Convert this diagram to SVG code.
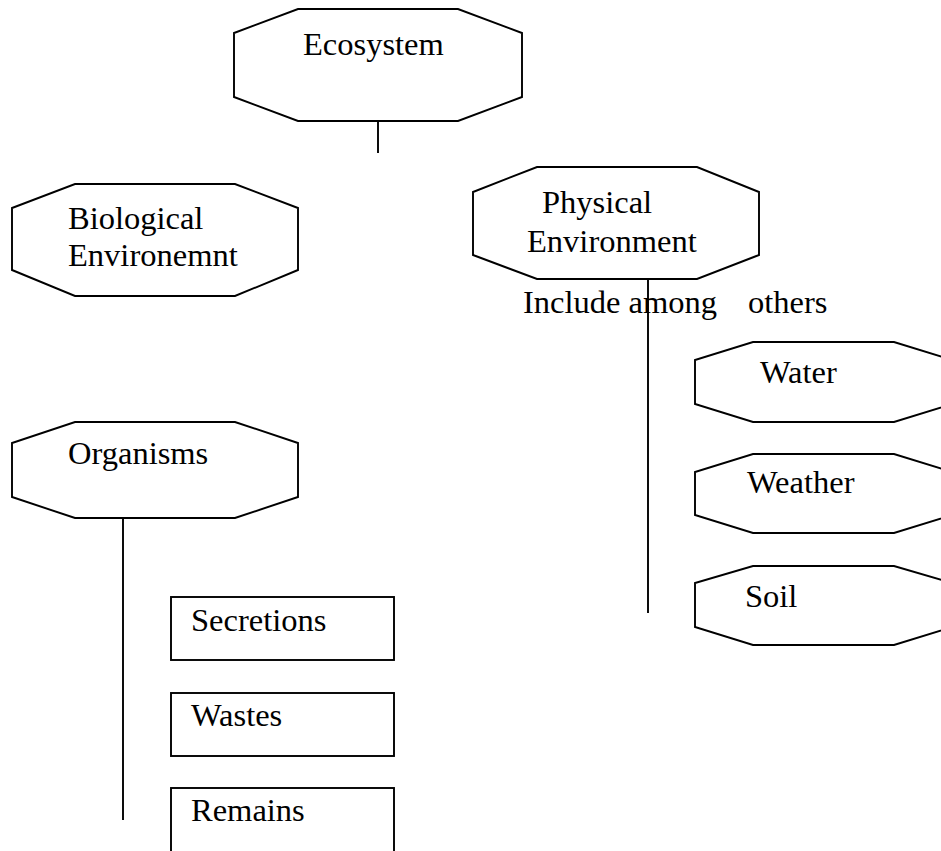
<svg xmlns="http://www.w3.org/2000/svg" width="941" height="851" viewBox="0 0 941 851">
<style>
.shape{fill:#fff;stroke:#000;stroke-width:1.9;stroke-linejoin:miter}
.lbl{font-family:"Liberation Serif","Times New Roman",serif;font-size:32.5px;fill:#000}
.conn{stroke:#000;stroke-width:1.9;fill:none}
</style>
<rect width="941" height="851" fill="#fff"/>
<g id="connectors">
<line class="conn" x1="378" y1="121" x2="378" y2="153"/>
<line class="conn" x1="648" y1="279" x2="648" y2="613"/>
<line class="conn" x1="123" y1="518" x2="123" y2="820"/>
</g>
<g id="ecosystem">
<polygon class="shape" points="298,9 458,9 522,33 522,97 458,121 298,121 234,97 234,33"/>
<text class="lbl" x="303" y="55">Ecosystem</text>
</g>
<g id="biological">
<polygon class="shape" points="75,184 235,184 298,208 298,270 235,296 75,296 12,270 12,208"/>
<text class="lbl" x="68" y="229">Biological</text>
<text class="lbl" x="68" y="266">Environemnt</text>
</g>
<g id="physical">
<polygon class="shape" points="537,167 697,167 759,192 759,255 697,279 537,279 473,255 473,192"/>
<text class="lbl" x="542" y="213">Physical</text>
<text class="lbl" x="527" y="252">Environment</text>
</g>
<g id="include-label">
<text class="lbl" x="523" y="313">Include among</text>
<text class="lbl" x="748" y="313">others</text>
</g>
<g id="organisms">
<polygon class="shape" points="75,422 235,422 298,443 298,497 235,518 75,518 12,497 12,443"/>
<text class="lbl" x="68" y="464">Organisms</text>
</g>
<g id="water">
<polygon class="shape" points="753,342 894,342 952,360 952,404 894,422 753,422 695,404 695,360"/>
<text class="lbl" x="760" y="383">Water</text>
</g>
<g id="weather">
<polygon class="shape" points="753,454 894,454 952,472 952,515 894,533 753,533 695,515 695,472"/>
<text class="lbl" x="747" y="493">Weather</text>
</g>
<g id="soil">
<polygon class="shape" points="753,566 894,566 952,583 952,627 894,645 753,645 695,627 695,583"/>
<text class="lbl" x="745" y="607">Soil</text>
</g>
<g id="secretions">
<rect class="shape" x="171" y="597" width="223" height="63"/>
<text class="lbl" x="191" y="631">Secretions</text>
</g>
<g id="wastes">
<rect class="shape" x="171" y="693" width="223" height="63"/>
<text class="lbl" x="191" y="726">Wastes</text>
</g>
<g id="remains">
<rect class="shape" x="171" y="788" width="223" height="75"/>
<text class="lbl" x="191" y="821">Remains</text>
</g>
</svg>
